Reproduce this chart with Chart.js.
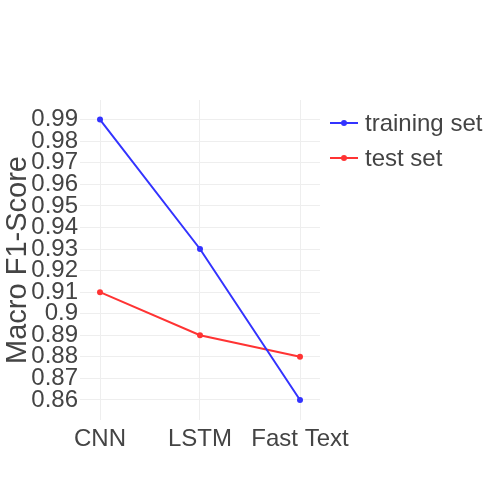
<!DOCTYPE html>
<html>
<head>
<meta charset="utf-8">
<script src="https://cdn.jsdelivr.net/npm/chart.js@4"></script>
<style>
  html, body { margin: 0; padding: 0; background: #fff; }
  #wrap { width: 500px; height: 500px; }
</style>
</head>
<body>
<div id="wrap"><canvas id="chart" width="500" height="500"></canvas></div>
<script>
// values
const models = ["CNN", "LSTM", "Fast Text"];
const trainingScores = [0.99, 0.93, 0.86];
const testScores = [0.91, 0.89, 0.88];
const seriesNames = ["training set", "test set"];
const yTitle = "Macro F1-Score";

const FONT = "'Liberation Sans', Arial, sans-serif";
const TXT = "#444";

function toPoints(vals) {
    return vals.map(function (v, i) { return { x: i, y: v }; });
}

// plotly-like legend: short line with a dot, then the name
const sideLegend = {
    id: "sideLegend",
    afterDraw: function (chart) {
        const ctx = chart.ctx;
        ctx.save();
        chart.data.datasets.forEach(function (ds, i) {
            const y = 123 + i * 35;
            ctx.strokeStyle = ds.borderColor;
            ctx.lineWidth = 2;
            ctx.beginPath();
            ctx.moveTo(330, y);
            ctx.lineTo(358, y);
            ctx.stroke();
            ctx.fillStyle = ds.borderColor;
            ctx.beginPath();
            ctx.arc(344, y, 3, 0, Math.PI * 2);
            ctx.fill();
            ctx.fillStyle = TXT;
            ctx.font = "24px " + FONT;
            ctx.textBaseline = "middle";
            ctx.fillText(ds.label, 365, y + 1);
        });
        ctx.restore();
    }
};

var ctx = document.getElementById("chart").getContext("2d");
var myChart = new Chart(ctx, {
    type: "line",
    data: {
        datasets: [{
            label: seriesNames[0],
            data: toPoints(trainingScores),
            borderColor: "rgba(51,51,255,1)",
            backgroundColor: "rgba(51,51,255,1)",
            borderWidth: 2,
            pointRadius: 3,
            pointBorderWidth: 0,
            pointHoverRadius: 3,
            tension: 0
        }, {
            label: seriesNames[1],
            data: toPoints(testScores),
            borderColor: "rgba(255,51,51,1)",
            backgroundColor: "rgba(255,51,51,1)",
            borderWidth: 2,
            pointRadius: 3,
            pointBorderWidth: 0,
            pointHoverRadius: 3,
            tension: 0
        }]
    },
    options: {
        responsive: false,
        animation: false,
        layout: { padding: { left: 0, top: 100, right: 180, bottom: 0 } },
        plugins: {
            legend: { display: false },
            tooltip: { enabled: false }
        },
        scales: {
            x: {
                type: "linear",
                min: -0.2,
                max: 2.2,
                afterFit: function (s) { s.height = 80; },
                border: { display: false },
                grid: { color: "#eeeeee", lineWidth: 1, drawTicks: false },
                ticks: {
                    stepSize: 1,
                    includeBounds: false,
                    padding: 5,
                    maxRotation: 0,
                    autoSkip: false,
                    color: TXT,
                    font: { family: FONT, size: 24 },
                    callback: function (v) { return models[Math.round(v)]; }
                }
            },
            y: {
                type: "linear",
                min: 0.8507,
                max: 0.9991,
                afterFit: function (s) { s.width = 80; },
                border: { display: false },
                grid: { color: "#eeeeee", lineWidth: 1, drawTicks: false },
                title: {
                    display: true,
                    text: yTitle,
                    color: TXT,
                    font: { family: FONT, size: 29 },
                    padding: { top: 1, bottom: 0 }
                },
                ticks: {
                    stepSize: 0.01,
                    includeBounds: false,
                    padding: 2,
                    autoSkip: false,
                    color: TXT,
                    font: { family: FONT, size: 24 },
                    callback: function (v) { return String(Number(v.toFixed(2))); }
                }
            }
        }
    },
    plugins: [sideLegend]
});
</script>
</body>
</html>
